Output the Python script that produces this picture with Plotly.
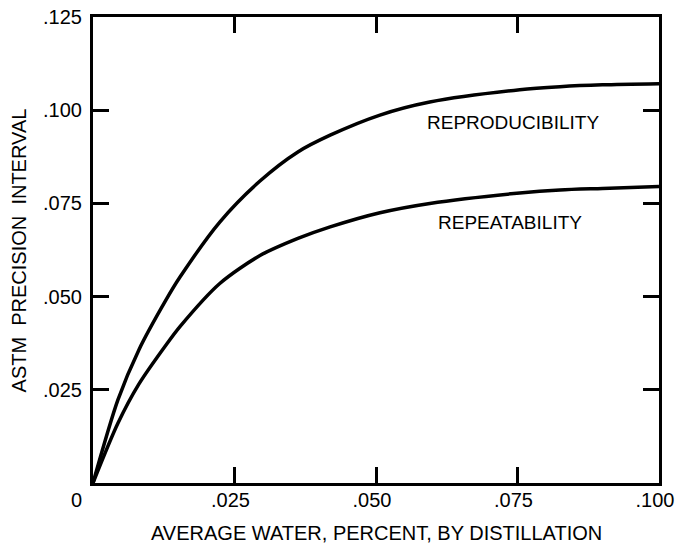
import plotly.graph_objects as go

# Data
water_pct = [0, 0.0044, 0.0081, 0.0129, 0.0154, 0.0224, 0.0295, 0.0362, 0.0419,
             0.0507, 0.0595, 0.0754, 0.0825, 0.0900, 0.1000]
reproducibility = [0, 0.0223, 0.0357, 0.0491, 0.0553, 0.0700, 0.0810, 0.0888, 0.0933,
                   0.0987, 0.1022, 0.1055, 0.1063, 0.1068, 0.1071]
repeatability = [0, 0.0160, 0.0265, 0.0370, 0.0420, 0.0535, 0.0610, 0.0656, 0.0687,
                 0.0725, 0.0750, 0.0778, 0.0786, 0.0790, 0.0795]

x_tickvals = [0.025, 0.050, 0.075, 0.100]
x_ticktext = [".025", ".050", ".075", ".100"]
y_tickvals = [0.025, 0.050, 0.075, 0.100, 0.125]
y_ticktext = [".025", ".050", ".075", ".100", ".125"]

FONT = "Liberation Sans, Arial, Helvetica, sans-serif"

fig = go.Figure()
fig.add_trace(go.Scatter(x=water_pct, y=reproducibility, mode="lines",
                         line=dict(color="black", width=3.5, shape="spline", smoothing=0.8),
                         name="REPRODUCIBILITY", showlegend=False, hoverinfo="skip"))
fig.add_trace(go.Scatter(x=water_pct, y=repeatability, mode="lines",
                         line=dict(color="black", width=3.5, shape="spline", smoothing=0.8),
                         name="REPEATABILITY", showlegend=False, hoverinfo="skip"))

axis_common = dict(showgrid=False, zeroline=False, showline=True, linecolor="black",
                   linewidth=3, ticks="inside", ticklen=16, tickwidth=2.5,
                   tickcolor="black", mirror="ticks", automargin=False,
                   ticklabeloverflow="allow",
                   tickfont=dict(family=FONT, size=20, color="black"))

fig.update_xaxes(range=[0, 0.1], tickvals=x_tickvals, ticktext=x_ticktext,
                 ticklabelstandoff=-3, ticklabelshift=-4, **axis_common)
fig.update_yaxes(range=[0, 0.125], tickvals=y_tickvals, ticktext=y_ticktext,
                 ticklabelstandoff=4, **axis_common)

annotations = [
    dict(x=0.0742, y=0.0968, xref="x", yref="y", text="REPRODUCIBILITY", showarrow=False,
         font=dict(family=FONT, size=19, color="black")),
    dict(x=0.0737, y=0.0700, xref="x", yref="y", text="REPEATABILITY", showarrow=False,
         font=dict(family=FONT, size=19, color="black")),
    dict(x=-0.030, y=-0.0365, xref="paper", yref="paper", text="0", showarrow=False,
         xanchor="center", yanchor="middle",
         font=dict(family=FONT, size=20, color="black")),
    dict(x=0.5, y=-0.107, xref="paper", yref="paper",
         text="AVERAGE WATER, PERCENT, BY DISTILLATION", showarrow=False,
         xanchor="center", yanchor="middle",
         font=dict(family=FONT, size=20, color="black")),
    dict(x=-0.13, y=0.5, xref="paper", yref="paper",
         text="ASTM  PRECISION  INTERVAL", showarrow=False, textangle=-90,
         xanchor="center", yanchor="middle",
         font=dict(family=FONT, size=20, color="black")),
]

fig.update_layout(width=677, height=550, margin=dict(l=93, r=18, t=17, b=67),
                  plot_bgcolor="white", paper_bgcolor="white",
                  annotations=annotations)

# Remove the default page margin so the figure fills the window exactly.
fig.write_html("out.html",
               config={"displayModeBar": False},
               post_script="document.body.style.margin='0px';"
                           "document.body.style.overflow='hidden';")
